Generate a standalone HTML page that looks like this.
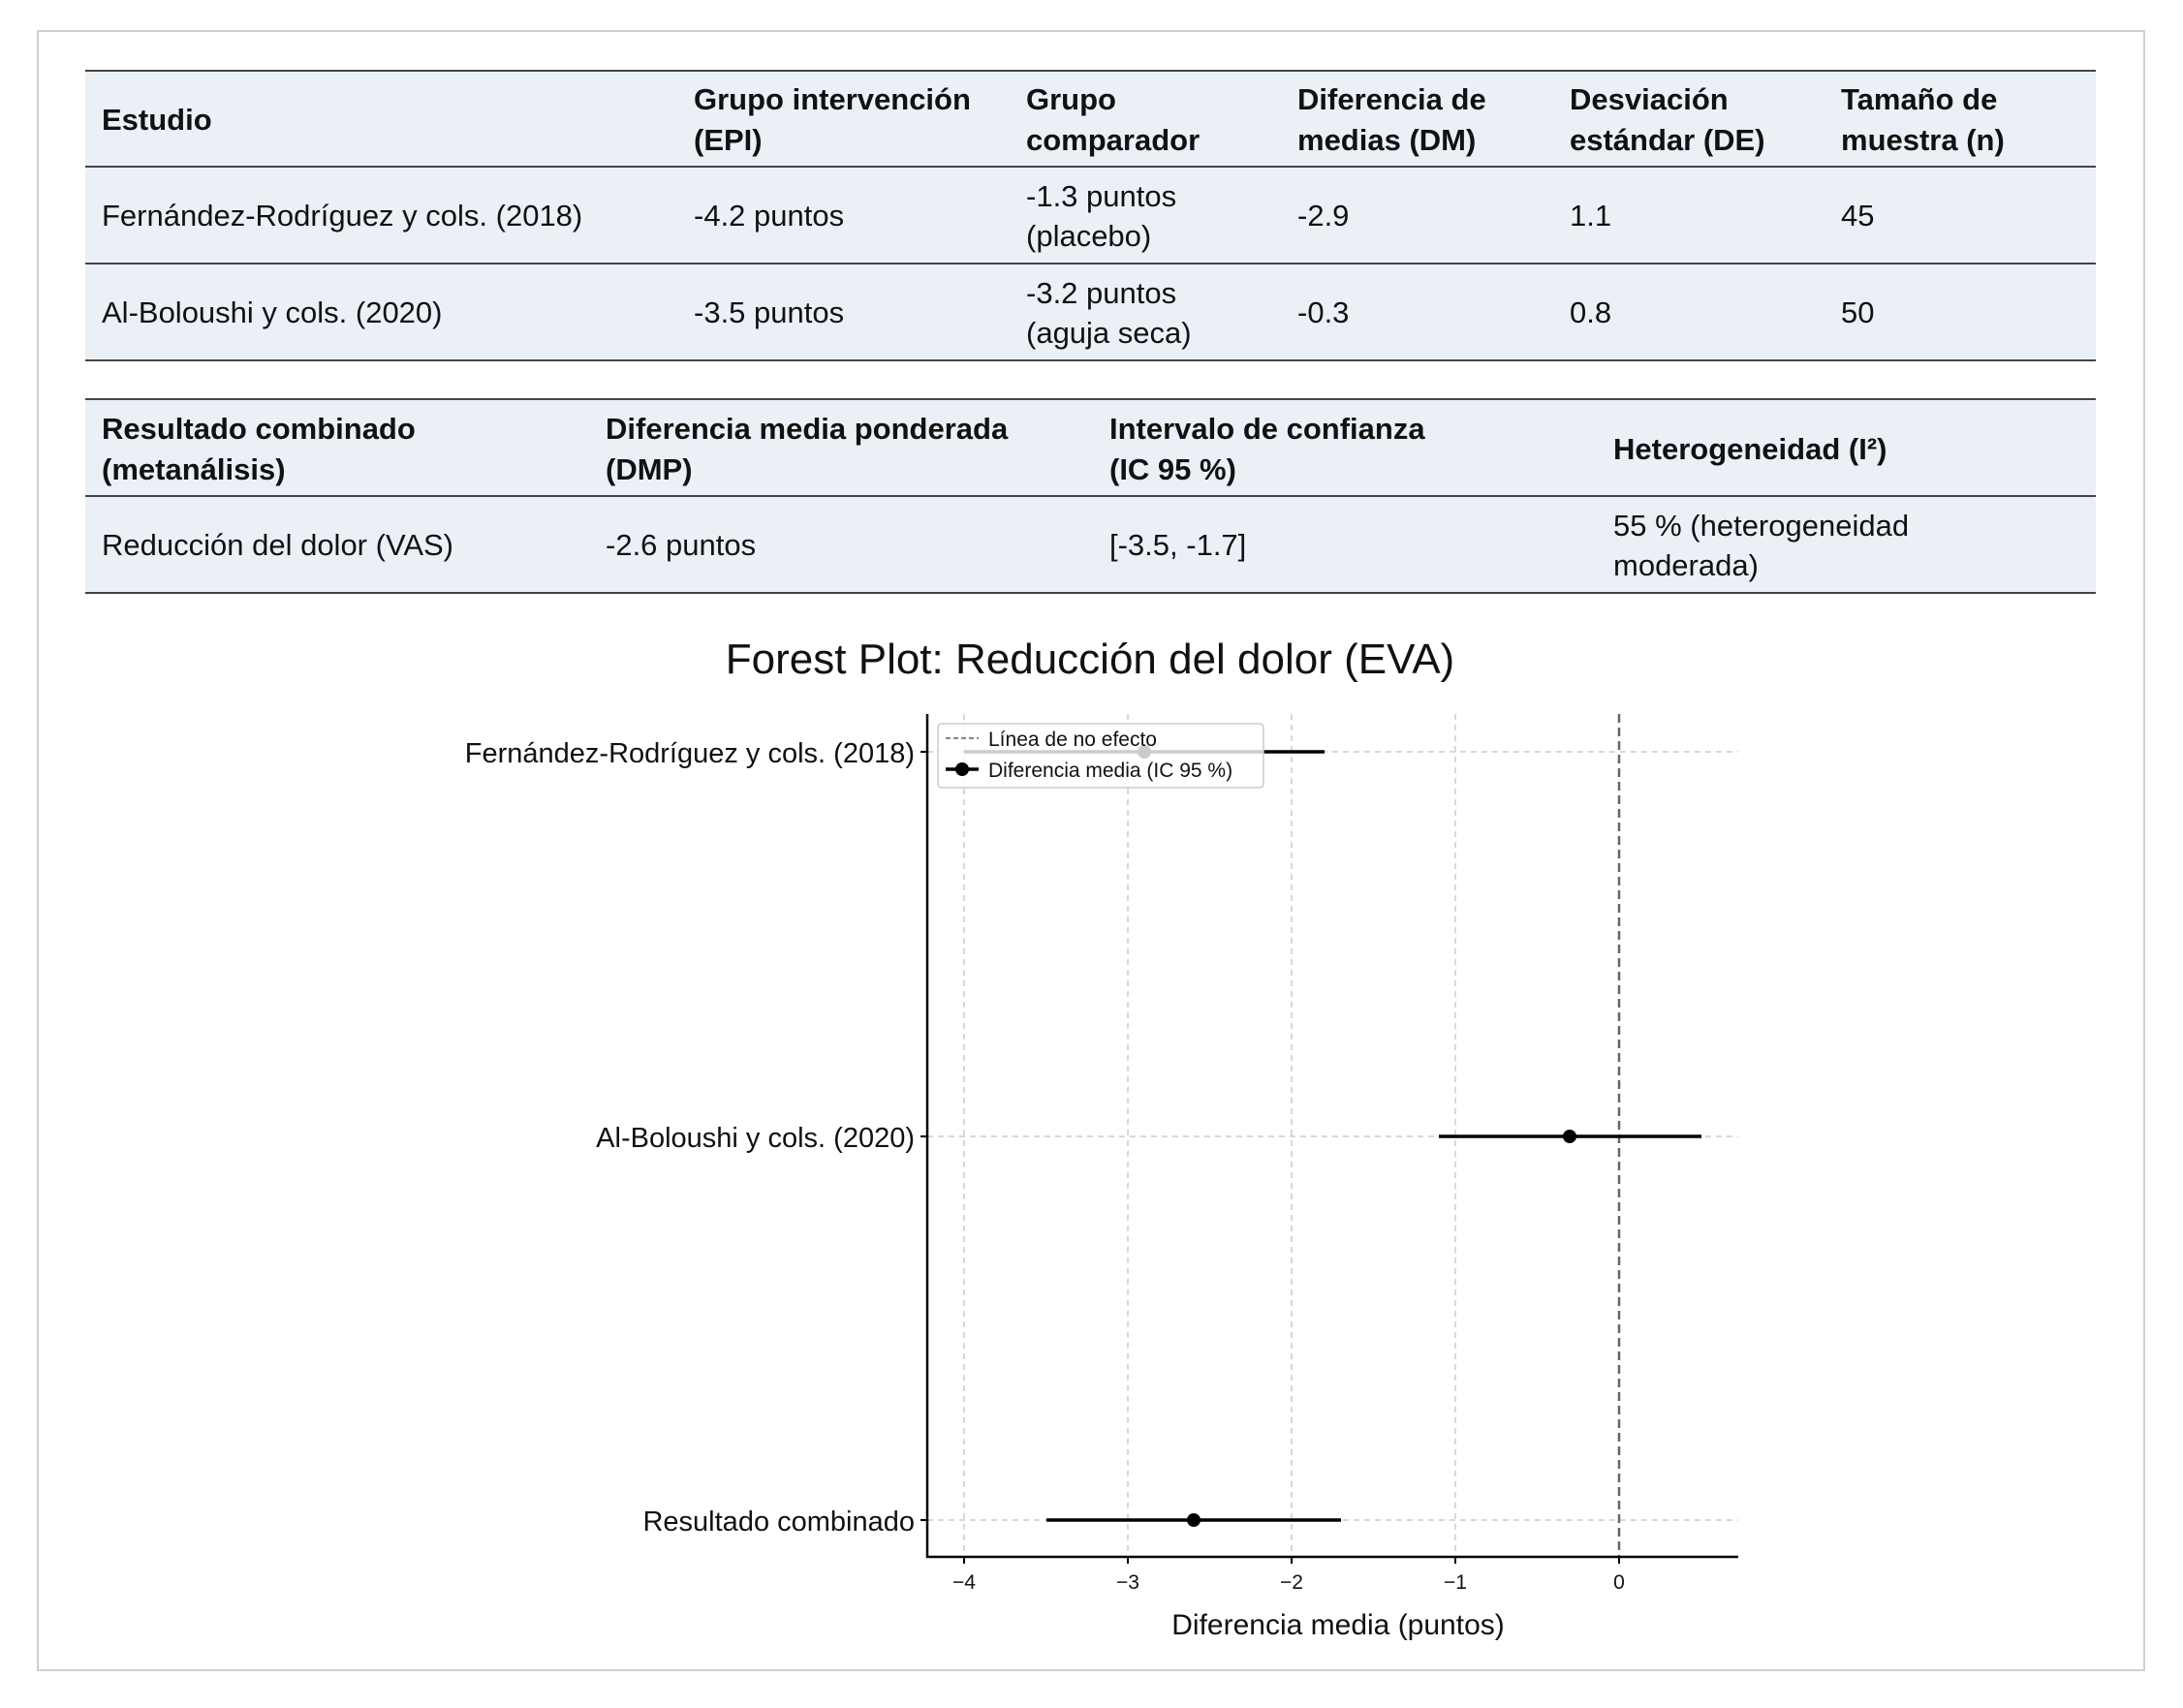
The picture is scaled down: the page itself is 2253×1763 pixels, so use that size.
<!DOCTYPE html>
<html><head><meta charset="utf-8"><style>
body{margin:0;background:#fff;}
svg text{font-family:"Liberation Sans",sans-serif;}
</style></head><body>
<svg width="2253" height="1758" viewBox="0 0 2253 1758" xmlns="http://www.w3.org/2000/svg">
<rect x="39" y="32" width="2174" height="1692" fill="#fff" stroke="#d0d0d0" stroke-width="2"/>
<!-- table 1 -->
<rect x="88" y="73" width="2075" height="299" fill="#ebf0f7"/>
<g stroke="#444" stroke-width="2">
<line x1="88" y1="73" x2="2163" y2="73"/><line x1="88" y1="172" x2="2163" y2="172"/>
<line x1="88" y1="272" x2="2163" y2="272"/><line x1="88" y1="372" x2="2163" y2="372"/>
</g>
<g font-size="31" fill="#111" font-weight="bold">
<text x="105" y="134">Estudio</text>
<text x="716" y="113">Grupo intervención</text><text x="716" y="155">(EPI)</text>
<text x="1059" y="113">Grupo</text><text x="1059" y="155">comparador</text>
<text x="1339" y="113">Diferencia de</text><text x="1339" y="155">medias (DM)</text>
<text x="1620" y="113">Desviación</text><text x="1620" y="155">estándar (DE)</text>
<text x="1900" y="113">Tamaño de</text><text x="1900" y="155">muestra (n)</text>
</g>
<g font-size="31" fill="#111">
<text x="105" y="233">Fernández-Rodríguez y cols. (2018)</text>
<text x="716" y="233">-4.2 puntos</text>
<text x="1059" y="213">-1.3 puntos</text><text x="1059" y="254">(placebo)</text>
<text x="1339" y="233">-2.9</text><text x="1620" y="233">1.1</text><text x="1900" y="233">45</text>
<text x="105" y="333">Al-Boloushi y cols. (2020)</text>
<text x="716" y="333">-3.5 puntos</text>
<text x="1059" y="313">-3.2 puntos</text><text x="1059" y="354">(aguja seca)</text>
<text x="1339" y="333">-0.3</text><text x="1620" y="333">0.8</text><text x="1900" y="333">50</text>
</g>
<!-- table 2 -->
<rect x="88" y="412" width="2075" height="200" fill="#ebf0f7"/>
<g stroke="#444" stroke-width="2">
<line x1="88" y1="412" x2="2163" y2="412"/><line x1="88" y1="512" x2="2163" y2="512"/>
<line x1="88" y1="612" x2="2163" y2="612"/>
</g>
<g font-size="31" fill="#111" font-weight="bold">
<text x="105" y="453">Resultado combinado</text><text x="105" y="495">(metanálisis)</text>
<text x="625" y="453">Diferencia media ponderada</text><text x="625" y="495">(DMP)</text>
<text x="1145" y="453">Intervalo de confianza</text><text x="1145" y="495">(IC 95 %)</text>
<text x="1665" y="474">Heterogeneidad (I²)</text>
</g>
<g font-size="31" fill="#111">
<text x="105" y="573">Reducción del dolor (VAS)</text>
<text x="625" y="573">-2.6 puntos</text>
<text x="1145" y="573">[-3.5, -1.7]</text>
<text x="1665" y="553">55 % (heterogeneidad</text><text x="1665" y="594">moderada)</text>
</g>
<!-- plot -->
<text x="1125" y="695" font-size="44" text-anchor="middle" fill="#111">Forest Plot: Reducción del dolor (EVA)</text>
<g stroke="#ccc" stroke-width="1.5" stroke-dasharray="6,5">
<line x1="995" y1="737" x2="995" y2="1607"/><line x1="1164" y1="737" x2="1164" y2="1607"/>
<line x1="1333" y1="737" x2="1333" y2="1607"/><line x1="1502" y1="737" x2="1502" y2="1607"/>
<line x1="957" y1="776" x2="1794" y2="776"/><line x1="957" y1="1173" x2="1794" y2="1173"/>
<line x1="957" y1="1569" x2="1794" y2="1569"/>
</g>
<line x1="1671" y1="737" x2="1671" y2="1607" stroke="#666" stroke-width="2.5" stroke-dasharray="9,5"/>
<g stroke="#000" stroke-width="3.5">
<line x1="995" y1="776" x2="1367" y2="776"/>
<line x1="1485" y1="1173" x2="1756" y2="1173"/>
<line x1="1080" y1="1569" x2="1384" y2="1569"/>
</g>
<circle cx="1181" cy="776" r="7"/><circle cx="1620" cy="1173" r="7"/><circle cx="1232" cy="1569" r="7"/>
<g stroke="#000" stroke-width="2.5" fill="none"><polyline points="957,737 957,1607 1794,1607"/></g>
<g stroke="#000" stroke-width="2">
<line x1="950" y1="776" x2="957" y2="776"/><line x1="950" y1="1173" x2="957" y2="1173"/><line x1="950" y1="1569" x2="957" y2="1569"/>
<line x1="995" y1="1607" x2="995" y2="1614"/><line x1="1164" y1="1607" x2="1164" y2="1614"/><line x1="1333" y1="1607" x2="1333" y2="1614"/><line x1="1502" y1="1607" x2="1502" y2="1614"/><line x1="1671" y1="1607" x2="1671" y2="1614"/>
</g>
<!-- legend -->
<rect x="968" y="747" width="336" height="66" rx="4" fill="#fff" fill-opacity="0.8" stroke="#ccc" stroke-width="1.5"/>
<line x1="976" y1="762" x2="1010" y2="762" stroke="#888" stroke-width="2" stroke-dasharray="5,3"/>
<text x="1020" y="770" font-size="21" fill="#111">Línea de no efecto</text>
<line x1="976" y1="794" x2="1010" y2="794" stroke="#000" stroke-width="3.5"/>
<circle cx="993" cy="794" r="7"/>
<text x="1020" y="802" font-size="21" fill="#111">Diferencia media (IC 95 %)</text>
<g font-size="29" fill="#111" text-anchor="end">
<text x="944" y="787">Fernández-Rodríguez y cols. (2018)</text>
<text x="944" y="1184">Al-Boloushi y cols. (2020)</text>
<text x="944" y="1580">Resultado combinado</text>
</g>
<g font-size="21" fill="#111" text-anchor="middle">
<text x="995" y="1640">−4</text><text x="1164" y="1640">−3</text><text x="1333" y="1640">−2</text><text x="1502" y="1640">−1</text><text x="1671" y="1640">0</text>
</g>
<text x="1381" y="1687" font-size="30" text-anchor="middle" fill="#111">Diferencia media (puntos)</text>
</svg>
</body></html>
